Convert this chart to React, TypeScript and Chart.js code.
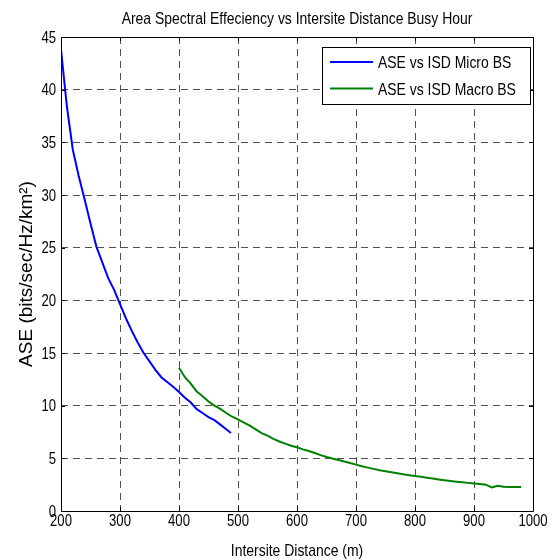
import React, { useEffect, useRef } from "react";
import { Chart, registerables } from "chart.js";

Chart.register(...registerables);

const chartTitle = "Area Spectral Effeciency vs Intersite Distance Busy Hour";
const xAxisLabel = "Intersite Distance (m)";
const yAxisLabel = "ASE (bits/sec/Hz/km²)";
const seriesNames = ["ASE vs ISD Micro BS", "ASE vs ISD Macro BS"];
const seriesColors = ["#0000ff", "#008000"];

const microDistance = [200, 210, 220, 230, 240, 250, 260, 270, 280, 290, 300, 310, 320, 330, 340, 350, 360, 370, 380, 390, 400, 410, 420, 430, 440, 450, 460, 470, 480, 488];
const microASE = [43.8, 38.4, 34.3, 31.8, 29.6, 27.3, 25.1, 23.6, 22.1, 21.0, 19.65, 18.3, 17.1, 16.0, 15.0, 14.2, 13.4, 12.7, 12.24, 11.8, 11.3, 10.76, 10.3, 9.67, 9.3, 8.92, 8.62, 8.2, 7.76, 7.4];

const macroDistance = [400, 410, 420, 430, 440, 450, 460, 470, 480, 490, 500, 510, 520, 530, 540, 550, 560, 570, 580, 590, 600, 610, 620, 630, 640, 650, 660, 670, 680, 690, 700, 710, 720, 730, 740, 750, 760, 770, 780, 790, 800, 810, 820, 830, 840, 850, 860, 870, 880, 890, 900, 910, 920, 930, 940, 950, 960, 970, 980];
const macroASE = [13.6, 12.7, 12.1, 11.35, 10.9, 10.4, 10.0, 9.7, 9.3, 8.95, 8.7, 8.4, 8.1, 7.75, 7.4, 7.15, 6.85, 6.6, 6.4, 6.2, 6.05, 5.85, 5.7, 5.5, 5.3, 5.13, 4.98, 4.85, 4.7, 4.55, 4.4, 4.25, 4.12, 4.0, 3.87, 3.78, 3.68, 3.58, 3.48, 3.4, 3.32, 3.25, 3.16, 3.08, 3.0, 2.93, 2.85, 2.78, 2.72, 2.67, 2.62, 2.56, 2.5, 2.24, 2.4, 2.3, 2.27, 2.27, 2.27];

const xMin = 200;
const xMax = 1000;
const xStep = 100;
const yMin = 0;
const yMax = 45;
const yStep = 5;

const FONT = "'Liberation Sans', Arial, Helvetica, sans-serif";
const SQUEEZE = 0.82;

function narrowText(ctx: CanvasRenderingContext2D, text: string, x: number, y: number, size: number, align: CanvasTextAlign) {
  ctx.save();
  ctx.translate(x, y);
  ctx.scale(SQUEEZE, 1);
  ctx.font = `${size}px ${FONT}`;
  ctx.textAlign = align;
  ctx.textBaseline = "alphabetic";
  ctx.fillStyle = "#000";
  ctx.fillText(text, 0, 0);
  ctx.restore();
}

const decorPlugin = {
  id: "matlabDecor",
  afterDraw(chart: any) {
    const { ctx, chartArea, scales } = chart;
    const { left, right, top, bottom } = chartArea;
    const xs = scales.x;
    const ys = scales.y;
    ctx.save();
    // axes box
    ctx.strokeStyle = "#000";
    ctx.lineWidth = 1;
    ctx.setLineDash([]);
    ctx.beginPath();
    ctx.rect(Math.round(left) + 0.5, Math.round(top) + 0.5, Math.round(right - left), Math.round(bottom - top));
    ctx.stroke();
    // inward ticks
    ctx.beginPath();
    xs.ticks.forEach((t: any) => {
      const px = Math.round(xs.getPixelForValue(t.value)) + 0.5;
      ctx.moveTo(px, bottom);
      ctx.lineTo(px, bottom - 4);
      ctx.moveTo(px, top);
      ctx.lineTo(px, top + 4);
    });
    ys.ticks.forEach((t: any) => {
      const py = Math.round(ys.getPixelForValue(t.value)) + 0.5;
      ctx.moveTo(left, py);
      ctx.lineTo(left + 4, py);
      ctx.moveTo(right, py);
      ctx.lineTo(right - 4, py);
    });
    ctx.stroke();

    // tick labels
    xs.ticks.forEach((t: any) => {
      const px = xs.getPixelForValue(t.value);
      narrowText(ctx, String(t.value), px, bottom + 15, 16, "center");
    });
    ys.ticks.forEach((t: any) => {
      const py = ys.getPixelForValue(t.value);
      narrowText(ctx, String(t.value), left - 5, py + 5.7, 16, "right");
    });

    // legend
    const lRight = Math.round(right) - 3;
    const lw = 208;
    const lLeft = lRight - lw;
    const lTop = Math.round(top) + 10;
    const lh = 57;
    ctx.fillStyle = "#fff";
    ctx.fillRect(lLeft + 0.5, lTop + 0.5, lw, lh);
    ctx.strokeStyle = "#000";
    ctx.lineWidth = 1;
    ctx.strokeRect(lLeft + 0.5, lTop + 0.5, lw, lh);
    seriesNames.forEach((name, i) => {
      const y = lTop + 15 + i * 26.5;
      ctx.strokeStyle = seriesColors[i];
      ctx.lineWidth = 2;
      ctx.beginPath();
      ctx.moveTo(lLeft + 8, y);
      ctx.lineTo(lLeft + 51, y);
      ctx.stroke();
      narrowText(ctx, name, lLeft + 56, y + 6, 17, "left");
    });

    // title and axis labels
    const cx = (left + right) / 2;
    narrowText(ctx, chartTitle, cx, 24, 17, "center");
    narrowText(ctx, xAxisLabel, cx, 556, 17, "center");
    ctx.save();
    ctx.fillStyle = "#000";
    ctx.font = `19px ${FONT}`;
    ctx.translate(27, (top + bottom) / 2);
    ctx.rotate(-Math.PI / 2);
    ctx.textAlign = "center";
    ctx.textBaseline = "middle";
    ctx.fillText(yAxisLabel, 0, 0);
    ctx.restore();
    ctx.restore();
  },
};

export default function App() {
  const canvasRef = useRef<HTMLCanvasElement | null>(null);

  useEffect(() => {
    document.body.style.margin = "0";
    const canvas = canvasRef.current;
    if (!canvas) return;
    const microData = microDistance.map((d, i) => ({ x: d, y: microASE[i] }));
    const macroData = macroDistance.map((d, i) => ({ x: d, y: macroASE[i] }));
    const chart = new Chart(canvas, {
      type: "line",
      data: {
        datasets: [
          {
            label: seriesNames[0],
            data: microData,
            borderColor: seriesColors[0],
            borderWidth: 2,
            pointRadius: 0,
            tension: 0,
            fill: false,
          },
          {
            label: seriesNames[1],
            data: macroData,
            borderColor: seriesColors[1],
            borderWidth: 2,
            pointRadius: 0,
            tension: 0,
            fill: false,
          },
        ],
      },
      options: {
        animation: false,
        responsive: false,
        maintainAspectRatio: false,
        events: [],
        layout: { padding: { left: 0, right: 22, top: 37, bottom: 0 } },
        plugins: {
          legend: { display: false },
          title: { display: false },
          tooltip: { enabled: false },
        },
        scales: {
          x: {
            type: "linear",
            min: xMin,
            max: xMax,
            afterFit: (s: any) => {
              s.height = 49;
            },
            ticks: {
              stepSize: xStep,
              display: false,
              maxRotation: 0,
            },
            grid: {
              color: "#505050",
              lineWidth: 1,
              drawTicks: false,
            },
            border: { display: false, dash: [7, 5] },
          },
          y: {
            type: "linear",
            min: yMin,
            max: yMax,
            afterFit: (s: any) => {
              s.width = 61;
            },
            ticks: {
              stepSize: yStep,
              display: false,
            },
            grid: {
              color: "#505050",
              lineWidth: 1,
              drawTicks: false,
            },
            border: { display: false, dash: [7, 5] },
          },
        },
      },
      plugins: [decorPlugin],
    });
    return () => chart.destroy();
  }, []);

  return (
    <div style={{ position: "absolute", left: 0, top: 0, width: 555, height: 560, background: "#fff" }}>
      <canvas ref={canvasRef} width={555} height={560} style={{ width: 555, height: 560, display: "block" }} />
    </div>
  );
}
